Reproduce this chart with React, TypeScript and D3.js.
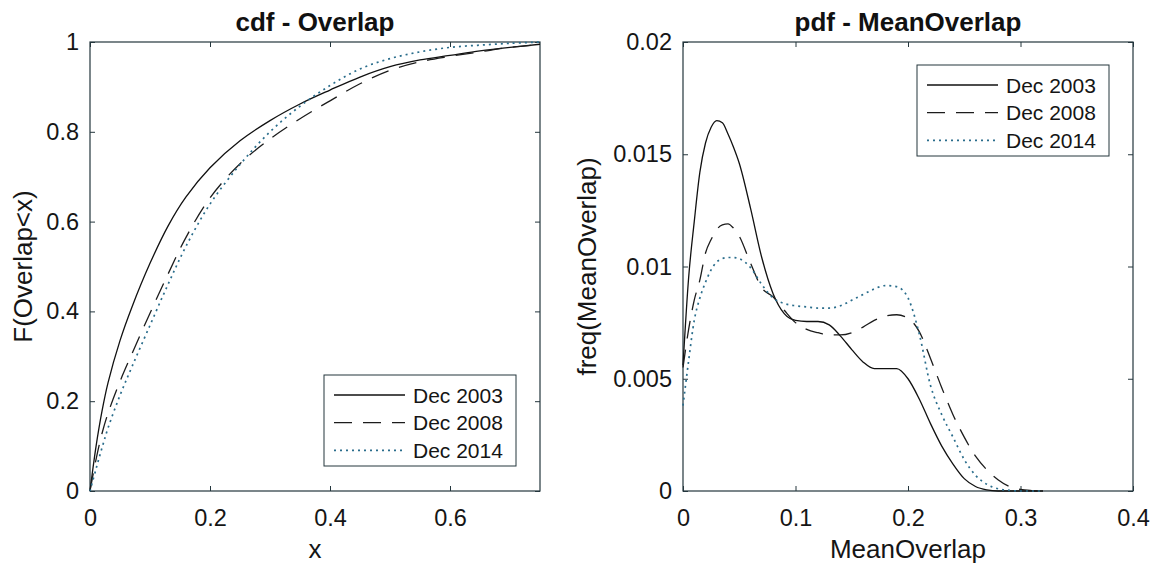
import React, { useEffect, useRef } from 'react';
import * as d3 from 'd3';

// legend names, same order as the series arrays below
const seriesNames = ['Dec 2003', 'Dec 2008', 'Dec 2014'];

// left panel: cdf of Overlap
const cdfX = [0, 0.01, 0.02, 0.03, 0.05, 0.07, 0.1, 0.13, 0.16, 0.2, 0.25, 0.3, 0.35, 0.4, 0.45, 0.5, 0.55, 0.6, 0.65, 0.7, 0.75];
const cdf2003 = [0, 0.099, 0.178, 0.241, 0.335, 0.41, 0.507, 0.59, 0.655, 0.72, 0.78, 0.825, 0.862, 0.893, 0.922, 0.945, 0.96, 0.97, 0.98, 0.988, 0.995];
const cdf2008 = [0, 0.07, 0.128, 0.173, 0.244, 0.306, 0.396, 0.483, 0.565, 0.653, 0.729, 0.784, 0.829, 0.869, 0.907, 0.937, 0.956, 0.968, 0.978, 0.988, 0.994];
const cdf2014 = [0, 0.049, 0.096, 0.14, 0.213, 0.277, 0.369, 0.46, 0.545, 0.639, 0.727, 0.8, 0.857, 0.903, 0.94, 0.963, 0.978, 0.988, 0.993, 0.997, 1.0];
const cdfXTicks = [0, 0.2, 0.4, 0.6];
const cdfYTicks = [0, 0.2, 0.4, 0.6, 0.8, 1];

// right panel: pdf of MeanOverlap
const pdfX = [0, 0.005, 0.01, 0.015, 0.02, 0.025, 0.03, 0.035, 0.04, 0.045, 0.05, 0.06, 0.07, 0.08, 0.09, 0.1, 0.11, 0.12, 0.13, 0.14, 0.15, 0.16, 0.17, 0.18, 0.19, 0.2, 0.21, 0.22, 0.23, 0.24, 0.25, 0.26, 0.27, 0.28, 0.29, 0.3, 0.31, 0.32];
const pdf2003 = [0.0056, 0.0095, 0.012, 0.0142, 0.0155, 0.0162, 0.0165, 0.0164, 0.0159, 0.0153, 0.0146, 0.0126, 0.0104, 0.0088, 0.0079, 0.0076, 0.00755, 0.00755, 0.0074, 0.0069, 0.0063, 0.00575, 0.00545, 0.00545, 0.00545, 0.005, 0.0041, 0.003, 0.002, 0.0012, 0.00055, 0.0002, 0.00005, 0, 0, 0, 0, 0];
const pdf2008 = [0.0055, 0.0072, 0.0085, 0.0094, 0.0106, 0.0112, 0.01165, 0.01185, 0.0119, 0.0117, 0.01135, 0.01015, 0.00905, 0.00865, 0.00805, 0.0075, 0.0072, 0.00705, 0.00695, 0.00695, 0.00705, 0.0073, 0.0076, 0.0078, 0.00785, 0.0077, 0.0071, 0.0059, 0.0046, 0.0034, 0.0024, 0.00155, 0.00095, 0.0005, 0.0002, 0.00007, 0.00002, 0];
const pdf2014 = [0.0038, 0.0058, 0.0076, 0.0086, 0.0093, 0.00985, 0.0102, 0.01035, 0.0104, 0.0104, 0.01035, 0.00995, 0.0092, 0.0086, 0.00835, 0.00825, 0.0082, 0.00815, 0.00815, 0.00825, 0.0085, 0.00875, 0.009, 0.00915, 0.0091, 0.0086, 0.007, 0.0047, 0.0034, 0.0024, 0.0014, 0.0007, 0.0003, 0.0001, 0.00003, 0, 0, 0];
const pdfXTicks = [0, 0.1, 0.2, 0.3, 0.4];
const pdfYTicks = [0, 0.005, 0.01, 0.015, 0.02];

const lineStyles = [
  { stroke: '#111', dash: null, width: 1.3 },
  { stroke: '#1c1c1c', dash: '18,11', width: 1.3 },
  { stroke: '#2a6d8c', dash: '2,4', width: 1.7 },
];

const FONT = '"Liberation Sans", Arial, Helvetica, sans-serif';
const AXIS_COLOR = '#24363d';

function drawPanel(root, opt) {
  const { left, right, top, bottom } = opt;
  const g = root.append('g');

  const x = d3.scaleLinear().domain(opt.xDomain).range([left, right]);
  const y = d3.scaleLinear().domain(opt.yDomain).range([bottom, top]);

  // box
  g.append('rect')
    .attr('x', left).attr('y', top)
    .attr('width', right - left).attr('height', bottom - top)
    .attr('fill', 'white').attr('stroke', AXIS_COLOR).attr('stroke-width', 1.2);

  const fmt = (d) => String(d);

  const xb = g.append('g').attr('transform', `translate(0,${bottom})`)
    .call(d3.axisBottom(x).tickValues(opt.xTicks).tickFormat(fmt).tickSizeInner(-5).tickSizeOuter(0).tickPadding(18));
  const xt = g.append('g').attr('transform', `translate(0,${top})`)
    .call(d3.axisTop(x).tickValues(opt.xTicks).tickFormat(() => '').tickSizeInner(-5).tickSizeOuter(0));
  const yl = g.append('g').attr('transform', `translate(${left},0)`)
    .call(d3.axisLeft(y).tickValues(opt.yTicks).tickFormat(fmt).tickSizeInner(-5).tickSizeOuter(0).tickPadding(11));
  const yr = g.append('g').attr('transform', `translate(${right},0)`)
    .call(d3.axisRight(y).tickValues(opt.yTicks).tickFormat(() => '').tickSizeInner(-5).tickSizeOuter(0));

  [xb, xt, yl, yr].forEach((a) => {
    a.select('.domain').remove();
    a.selectAll('line').attr('stroke', AXIS_COLOR).attr('stroke-width', 1);
    a.selectAll('text').attr('font-family', FONT).attr('font-size', 23.5).attr('fill', '#151515');
  });

  // curves
  const line = d3.line()
    .x((d) => x(d[0]))
    .y((d) => y(d[1]))
    .curve(opt.curve);

  opt.series.forEach((vals, i) => {
    const st = lineStyles[i];
    const pts = opt.xs.map((v, j) => [v, vals[j]]);
    g.append('path')
      .datum(pts)
      .attr('fill', 'none')
      .attr('stroke', st.stroke)
      .attr('stroke-width', st.width)
      .attr('stroke-dasharray', st.dash)
      .attr('d', line);
  });

  // title
  g.append('text')
    .attr('x', (left + right) / 2).attr('y', 31)
    .attr('text-anchor', 'middle')
    .attr('font-family', FONT).attr('font-weight', 'bold').attr('font-size', 26)
    .attr('fill', '#111')
    .text(opt.title);

  // axis labels
  g.append('text')
    .attr('x', (left + right) / 2).attr('y', 558)
    .attr('text-anchor', 'middle')
    .attr('font-family', FONT).attr('font-size', 26).attr('fill', '#151515')
    .text(opt.xLabel);

  g.append('text')
    .attr('transform', `translate(${opt.yLabelX},${(top + bottom) / 2}) rotate(-90)`)
    .attr('text-anchor', 'middle')
    .attr('font-family', FONT).attr('font-size', 26).attr('fill', '#151515')
    .text(opt.yLabel);

  // legend
  const lw = 192, lh = 91;
  const lx = right - 24 - lw;
  const ly = opt.legendPos === 'bottom' ? bottom - 25 - lh : top + 23;
  const lg = g.append('g').attr('transform', `translate(${lx},${ly})`);
  lg.append('rect')
    .attr('width', lw).attr('height', lh)
    .attr('fill', 'white').attr('stroke', AXIS_COLOR).attr('stroke-width', 1);
  seriesNames.forEach((name, i) => {
    const st = lineStyles[i];
    const ry = 20 + i * 27.7;
    lg.append('line')
      .attr('x1', 10).attr('x2', 81).attr('y1', ry).attr('y2', ry)
      .attr('stroke', st.stroke).attr('stroke-width', st.width)
      .attr('stroke-dasharray', st.dash);
    lg.append('text')
      .attr('x', 89).attr('y', ry)
      .attr('dominant-baseline', 'central')
      .attr('font-family', FONT).attr('font-size', 21).attr('fill', '#151515')
      .text(name);
  });
}

export default function App() {
  const ref = useRef(null);

  useEffect(() => {
    const svg = d3.select(ref.current);
    svg.selectAll('*').remove();

    drawPanel(svg, {
      left: 90, right: 540, top: 42, bottom: 491,
      xDomain: [0, 0.75], yDomain: [0, 1],
      xTicks: cdfXTicks, yTicks: cdfYTicks,
      xs: cdfX, series: [cdf2003, cdf2008, cdf2014],
      curve: d3.curveCatmullRom.alpha(0.5),
      title: 'cdf - Overlap', xLabel: 'x', yLabel: 'F(Overlap<x)',
      yLabelX: 32, legendPos: 'bottom',
    });

    drawPanel(svg, {
      left: 683, right: 1133, top: 42, bottom: 491,
      xDomain: [0, 0.4], yDomain: [0, 0.02],
      xTicks: pdfXTicks, yTicks: pdfYTicks,
      xs: pdfX, series: [pdf2003, pdf2008, pdf2014],
      curve: d3.curveMonotoneX,
      title: 'pdf - MeanOverlap', xLabel: 'MeanOverlap', yLabel: 'freq(MeanOverlap)',
      yLabelX: 596, legendPos: 'top',
    });
  }, []);

  return (
    <svg
      ref={ref}
      width={1152}
      height={567}
      style={{ position: 'fixed', left: 0, top: 0, background: 'white' }}
    />
  );
}
